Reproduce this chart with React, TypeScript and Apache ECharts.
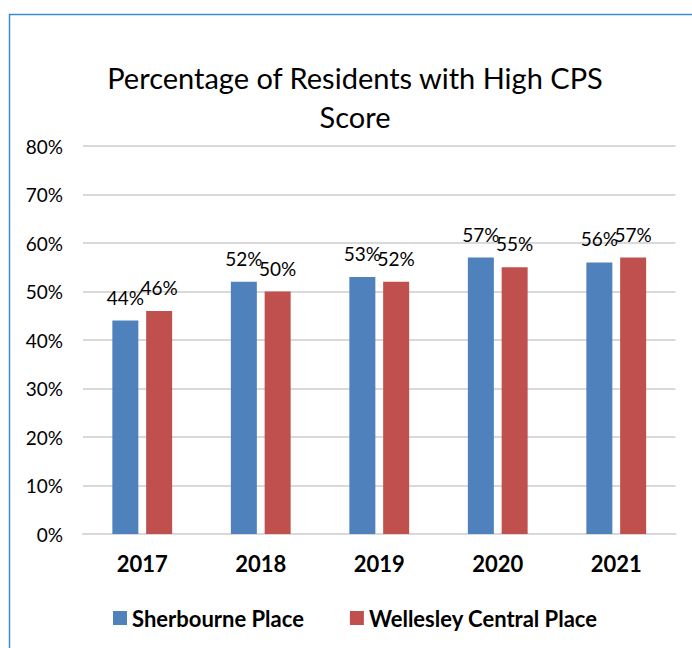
import React, { useEffect, useRef } from "react";
import * as echarts from "echarts";

const categories = ["2017", "2018", "2019", "2020", "2021"];
const sherbourne = [44, 52, 53, 57, 56];
const wellesley = [46, 50, 52, 55, 57];
const seriesNames = ["Sherbourne Place", "Wellesley Central Place"];
const titleLines = ["Percentage of Residents with High CPS", "Score"];

const FONT = "Lato, 'Noto Sans', sans-serif";

export default function App() {
  const ref = useRef<HTMLDivElement>(null);
  useEffect(() => {
    if (!ref.current) return;
    const chart = echarts.init(ref.current, null, { renderer: "svg" });
    const labelCfg = {
      show: true,
      position: "top" as const,
      distance: 14,
      formatter: "{c}%",
      color: "#000",
      fontSize: 19,
      fontFamily: FONT,
    };
    chart.setOption({
      animation: false,
      backgroundColor: "#fff",
      legend: {
        data: seriesNames,
        bottom: 14,
        left: 108,
        itemWidth: 14,
        itemHeight: 14,
        itemGap: 46,
        icon: "rect",
        textStyle: { fontFamily: FONT, fontSize: 22, fontWeight: "bold", color: "#000" },
      },
      grid: { left: 83, right: 16.5, top: 146, bottom: 114, containLabel: false },
      xAxis: {
        type: "category",
        data: categories,
        axisTick: { show: false },
        axisLine: { show: true, lineStyle: { color: "#d9d9d9", width: 2 } },
        axisLabel: {
          margin: 18,
          fontFamily: FONT,
          fontSize: 22,
          fontWeight: "bold",
          color: "#000",
        },
      },
      yAxis: {
        type: "value",
        min: 0,
        max: 80,
        interval: 10,
        axisLine: { show: false },
        axisTick: { show: false },
        splitLine: { lineStyle: { color: "#d9d9d9", width: 2 } },
        axisLabel: {
          formatter: "{value}%",
          margin: 20,
          fontFamily: FONT,
          fontSize: 19,
          color: "#000",
        },
      },
      series: [
        {
          name: seriesNames[0],
          type: "bar",
          data: sherbourne,
          barWidth: 26,
          barGap: "30%",
          itemStyle: { color: "#4F81BD" },
          label: labelCfg,
        },
        {
          name: seriesNames[1],
          type: "bar",
          data: wellesley,
          barWidth: 26,
          barGap: "30%",
          itemStyle: { color: "#C0504D" },
          label: labelCfg,
        },
      ],
      graphic: [
        {
          type: "text",
          x: 355,
          y: 77,
          style: {
            text: titleLines[0],
            fontFamily: FONT,
            fontSize: 29,
            fill: "#000",
            textAlign: "center",
            textVerticalAlign: "middle",
          },
        },
        {
          type: "text",
          x: 355,
          y: 116,
          style: {
            text: titleLines[1],
            fontFamily: FONT,
            fontSize: 29,
            fill: "#000",
            textAlign: "center",
            textVerticalAlign: "middle",
          },
        },
        {
          type: "line",
          shape: { x1: 9.5, y1: 14, x2: 9.5, y2: 648 },
          style: { stroke: "#3C8DD0", lineWidth: 1.5 },
        },
        {
          type: "line",
          shape: { x1: 9, y1: 14.5, x2: 692, y2: 14.5 },
          style: { stroke: "#3C8DD0", lineWidth: 1.5 },
        },
      ],
    });
    return () => chart.dispose();
  }, []);
  return (
    <div
      ref={ref}
      style={{ position: "absolute", left: 0, top: 0, width: 692, height: 648 }}
    />
  );
}
